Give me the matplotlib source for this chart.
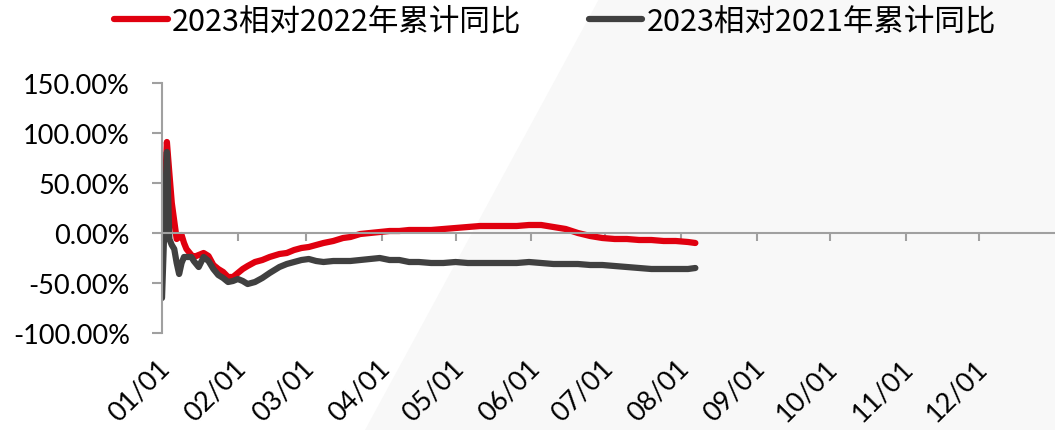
import numpy as np
import pandas as pd
import matplotlib.pyplot as plt
from matplotlib.patches import Polygon
from matplotlib.transforms import ScaledTranslation

# values (%, cumulative yoy)
dates = ['01-01', '01-03', '01-04', '01-05', '01-06', '01-07', '01-08', '01-09',
         '01-10', '01-11', '01-13', '01-14', '01-16', '01-18', '01-20', '01-22',
         '01-24', '01-26', '01-28', '01-30', '02-01', '02-03', '02-05', '02-08',
         '02-11', '02-14', '02-18', '02-21', '02-24', '02-27', '03-02', '03-05',
         '03-08', '03-12', '03-16', '03-19', '03-23', '03-27', '03-31', '04-04',
         '04-08', '04-12', '04-16', '04-21', '04-26', '05-01', '05-06', '05-11',
         '05-16', '05-21', '05-26', '05-31', '06-05', '06-10', '06-15', '06-20',
         '06-25', '06-30', '07-05', '07-10', '07-15', '07-20', '07-25', '07-30',
         '08-04', '08-07']
vs_2022 = [-25, 91, 60, 30, 12, -6, -4, -2,
           -10, -16, -22, -24, -22, -20, -23, -32,
           -36, -39, -44, -44, -40, -36, -33, -29,
           -27, -24, -21, -20, -17, -15, -14, -12,
           -10, -8, -5, -4, -1, 0, 1, 2,
           2, 3, 3, 3, 4, 5, 6, 7,
           7, 7, 7, 8, 8, 6, 4, 0,
           -3, -5, -6, -6, -7, -7, -8, -8,
           -9, -10]
vs_2021 = [-65, 81, -6, -12, -16, -30, -41, -30,
           -24, -24, -24, -28, -34, -24, -28, -36,
           -42, -45, -49, -48, -46, -48, -51, -49,
           -45, -40, -34, -31, -29, -27, -26, -28,
           -29, -28, -28, -28, -27, -26, -25, -27,
           -27, -29, -29, -30, -30, -29, -30, -30,
           -30, -30, -30, -29, -30, -31, -31, -31,
           -32, -32, -33, -34, -35, -36, -36, -36,
           -36, -35]
labels = ['2023相对2022年累计同比', '2023相对2021年累计同比']
colors = ['#E0000F', '#404040']
months = pd.date_range('2023-01-01', periods=12, freq='MS')

x = pd.to_datetime(['2023-' + d for d in dates])

fig = plt.figure(figsize=(10.55, 4.31), dpi=100)
# light grey diagonal band in the background
fig.patches.append(Polygon([(599 / 1055, 1), (1, 1), (1, 0), (365 / 1055, 0)],
                           closed=True, transform=fig.transFigure,
                           facecolor='#f8f8f8', edgecolor='none', zorder=-10))

ax = fig.add_axes([162 / 1055, 97 / 431, 1 - 162 / 1055, 250 / 431])
ax.patch.set_alpha(0)

for vals, lab, c in zip([vs_2022, vs_2021], labels, colors):
    ax.plot(x, vals, color=c, lw=4.5, label=lab,
            solid_joinstyle='round', solid_capstyle='round')

ax.set_ylim(-100, 150)
ax.set_yticks(np.arange(-100, 151, 50))
ax.set_yticklabels([f'{v:.2f}%' for v in np.arange(-100, 151, 50)])
ax.set_xlim(pd.Timestamp('2023-01-01'), pd.Timestamp('2024-01-01'))
ax.set_xticks(months)
ax.set_xticklabels([m.strftime('%m/%d') for m in months])

for s in ['top', 'right']:
    ax.spines[s].set_visible(False)
ax.spines['bottom'].set_position(('data', 0))
for s in ['left', 'bottom']:
    ax.spines[s].set_color('#a0a0a0')
    ax.spines[s].set_linewidth(1.5)

font = 'Lato'
ax.tick_params(axis='y', direction='out', length=7, width=1.5, color='#a0a0a0',
               pad=16, labelsize=19.5)
ax.tick_params(axis='x', direction='out', length=6, width=1.5, color='#a0a0a0',
               pad=88, labelsize=19.5)
for t in ax.get_yticklabels():
    t.set_fontfamily(font)
offset = ScaledTranslation(4 / 100, 0, fig.dpi_scale_trans)
for t in ax.get_xticklabels():
    t.set_fontfamily(font)
    t.set_rotation(45)
    t.set_ha('right')
    t.set_va('center')
    t.set_rotation_mode('anchor')
    t.set_transform(t.get_transform() + offset)

fig.legend(loc='center', bbox_to_anchor=(555 / 1055, 1 - 22 / 431), ncol=2,
           frameon=False, borderpad=0, handlelength=1.76, handletextpad=0.13,
           columnspacing=2.2,
           prop={'family': ['Noto Sans CJK SC', 'DejaVu Sans'], 'size': 22})

fig.savefig('out.png', dpi=100)
